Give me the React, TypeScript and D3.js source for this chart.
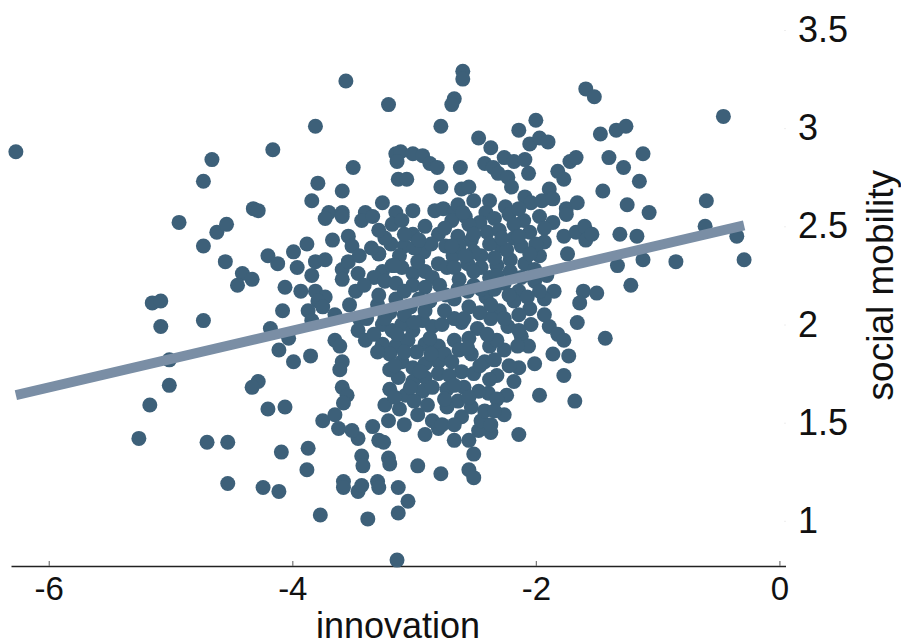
import React, { useEffect, useRef } from 'react';
import * as d3 from 'd3';

const width = 901;
const height = 642;

// [innovation, social mobility]
const topPoints: [number, number][] = [
  [-6.27, 2.88], [-4.66, 2.84], [-4.73, 2.73], [-3.56, 3.24], [-3.21, 3.12], [-3.81, 3.01],
  [-2.78, 3.01], [-4.16, 2.89], [-3.50, 2.80], [-3.15, 2.87], [-3.11, 2.88], [-3.01, 2.87],
  [-2.93, 2.86], [-2.87, 2.82], [-2.81, 2.80], [-3.14, 2.83], [-3.13, 2.74], [-3.06, 2.74],
  [-2.78, 2.70], [-3.79, 2.72], [-3.59, 2.68], [-3.84, 2.63], [-3.26, 2.62], [-4.32, 2.59],
  [-4.28, 2.58], [-3.70, 2.57], [-3.59, 2.57], [-3.40, 2.57], [-3.15, 2.57], [-3.01, 2.58],
  [-2.83, 2.58], [-2.76, 2.59], [-2.60, 3.29], [-2.60, 3.25], [-2.67, 3.15], [-2.69, 3.12],
  [-1.59, 3.20], [-1.52, 3.16], [-2.00, 3.04], [-2.14, 2.99], [-2.47, 2.95], [-2.37, 2.90],
  [-2.05, 2.92], [-1.97, 2.95], [-1.90, 2.93], [-1.47, 2.97], [-1.34, 2.99], [-1.26, 3.01],
  [-1.12, 2.87], [-1.40, 2.85], [-1.28, 2.80], [-1.15, 2.73], [-1.45, 2.68], [-1.25, 2.61],
  [-1.07, 2.57], [-2.62, 2.80], [-2.42, 2.82], [-2.35, 2.80], [-2.26, 2.85], [-2.18, 2.83],
  [-2.09, 2.84], [-2.31, 2.77], [-2.23, 2.75], [-2.06, 2.77], [-2.20, 2.70], [-1.82, 2.78],
  [-1.77, 2.74], [-1.72, 2.83], [-1.67, 2.85], [-2.61, 2.69], [-2.55, 2.70], [-2.51, 2.63],
  [-2.09, 2.65], [-2.04, 2.62], [-1.95, 2.63], [-1.89, 2.69], [-1.86, 2.64], [-1.75, 2.59],
  [-1.66, 2.62], [-2.67, 2.57], [-2.38, 2.63], [-2.25, 2.60], [-2.41, 2.57],
];

const rightPoints: [number, number][] = [
  [-0.46, 3.06], [-0.60, 2.63], [-0.61, 2.50], [-0.35, 2.45], [-0.29, 2.33], [-0.85, 2.32],
  [-1.75, 2.56], [-1.77, 2.45], [-1.67, 2.47], [-1.60, 2.50], [-1.59, 2.43], [-1.54, 2.46],
  [-1.31, 2.46], [-1.17, 2.45], [-1.74, 2.36], [-1.33, 2.30], [-1.12, 2.33], [-1.22, 2.20],
  [-1.61, 2.17], [-1.50, 2.16], [-1.64, 2.11], [-1.85, 2.17], [-1.66, 2.01], [-1.89, 1.99],
  [-1.82, 1.95], [-1.77, 1.92], [-1.43, 1.93], [-2.04, 2.00], [-2.12, 1.94], [-2.06, 1.89],
  [-1.86, 1.85], [-1.73, 1.84], [-2.01, 1.80], [-2.14, 1.78], [-1.77, 1.74], [-2.32, 1.74],
  [-2.18, 1.71], [-2.24, 1.64], [-1.97, 1.64], [-1.68, 1.61], [-2.39, 1.65],
];

const leftPoints: [number, number][] = [
  [-4.93, 2.52], [-4.62, 2.47], [-4.54, 2.51], [-4.73, 2.40], [-4.55, 2.32], [-5.15, 2.11],
  [-5.08, 2.12], [-5.08, 1.99], [-4.73, 2.02], [-5.01, 1.82], [-5.01, 1.69], [-5.17, 1.59],
  [-3.73, 2.54], [-3.59, 2.55], [-3.43, 2.53], [-3.34, 2.55], [-3.18, 2.51], [-3.10, 2.53],
  [-3.01, 2.46], [-2.91, 2.50], [-2.80, 2.46], [-3.88, 2.41], [-3.99, 2.37], [-3.67, 2.43],
  [-3.54, 2.45], [-3.51, 2.40], [-3.29, 2.36], [-4.20, 2.35], [-4.12, 2.31], [-3.96, 2.29],
  [-3.81, 2.32], [-3.73, 2.33], [-3.59, 2.28], [-3.54, 2.32], [-3.84, 2.25], [-4.41, 2.26],
  [-4.33, 2.23], [-4.45, 2.20], [-4.06, 2.19], [-3.93, 2.17], [-3.81, 2.17], [-3.73, 2.14],
  [-3.79, 2.12], [-3.59, 2.23], [-3.46, 2.26], [-3.48, 2.17], [-4.08, 2.07], [-3.87, 2.07],
  [-3.75, 2.09], [-3.65, 2.05], [-3.84, 2.02], [-4.18, 1.98], [-4.03, 1.93], [-4.11, 1.87],
  [-3.99, 1.81], [-3.85, 1.84], [-3.65, 1.92], [-3.61, 1.89], [-3.59, 1.81], [-3.61, 1.77],
  [-4.28, 1.71], [-4.33, 1.68], [-4.20, 1.57], [-4.06, 1.58], [-3.59, 1.68], [-3.55, 1.64],
  [-3.58, 1.60], [-3.75, 1.51], [-3.65, 1.54], [-3.53, 2.10], [-3.45, 2.03],
];

const bottomPoints: [number, number][] = [
  [-5.26, 1.42], [-4.70, 1.40], [-4.53, 1.40], [-4.53, 1.19], [-4.09, 1.35], [-3.87, 1.37],
  [-3.88, 1.26], [-4.24, 1.17], [-4.11, 1.15], [-3.77, 1.03], [-3.58, 1.20], [-3.58, 1.17],
  [-3.46, 1.15], [-3.43, 1.18], [-3.30, 1.20], [-3.29, 1.17], [-3.38, 1.01], [-3.13, 1.17],
  [-3.05, 1.10], [-3.13, 1.04], [-3.14, 0.80], [-3.43, 1.33], [-3.42, 1.28], [-3.21, 1.32],
  [-3.20, 1.29], [-2.97, 1.28], [-2.78, 1.24], [-2.91, 1.44], [-3.46, 1.42], [-3.29, 1.41],
  [-3.25, 1.40], [-3.62, 1.47], [-3.51, 1.46], [-2.80, 1.47], [-2.14, 1.44], [-2.37, 1.45],
  [-2.47, 1.46], [-2.51, 1.34], [-2.55, 1.26], [-2.51, 1.22], [-3.21, 1.51], [-3.34, 1.48],
  [-2.97, 1.54], [-2.85, 1.51], [-2.77, 1.49], [-2.61, 1.53], [-2.45, 1.51], [-2.37, 1.49],
  [-2.67, 1.49], [-2.55, 1.41], [-2.67, 1.41], [-3.08, 1.49],
];

const centerPoints: [number, number][] = [
  [-3.29, 2.36], [-3.26, 2.27], [-3.18, 2.30], [-3.10, 2.29], [-3.01, 2.26], [-2.91, 2.27],
  [-2.85, 2.24], [-2.80, 2.31], [-3.33, 2.24], [-3.24, 2.22], [-3.15, 2.21], [-3.01, 2.20],
  [-2.91, 2.19], [-3.26, 2.00], [-3.18, 1.97], [-3.10, 2.00], [-3.01, 1.97], [-2.93, 2.02],
  [-2.85, 1.99], [-2.77, 2.00], [-3.46, 1.97], [-3.40, 1.92], [-3.26, 1.90], [-3.15, 1.89],
  [-3.05, 1.92], [-2.91, 1.90], [-2.80, 1.89], [-3.10, 1.81], [-3.01, 1.78], [-2.91, 1.80],
  [-2.80, 1.81], [-3.13, 1.73], [-3.01, 1.71], [-2.91, 1.73], [-2.80, 1.75], [-3.20, 1.67],
  [-3.07, 1.64], [-2.93, 1.66], [-2.85, 1.68], [-2.74, 2.40], [-2.92, 2.37], [-3.08, 2.40],
  [-3.19, 2.41], [-2.87, 2.12], [-2.74, 2.15], [-3.03, 2.09], [-3.15, 2.13], [-3.30, 2.10],
  [-3.39, 2.03], [-2.69, 2.53], [-2.58, 2.55], [-2.46, 2.52], [-2.34, 2.54], [-2.22, 2.56],
  [-2.10, 2.53], [-1.97, 2.55], [-1.86, 2.52], [-2.64, 2.45], [-2.53, 2.43], [-2.40, 2.47],
  [-2.29, 2.40], [-2.18, 2.44], [-2.05, 2.47], [-1.93, 2.42], [-2.68, 2.35], [-2.56, 2.31],
  [-2.45, 2.35], [-2.32, 2.30], [-2.21, 2.33], [-2.09, 2.31], [-1.97, 2.35], [-2.63, 2.23],
  [-2.51, 2.20], [-2.38, 2.24], [-2.26, 2.21], [-2.14, 2.17], [-2.01, 2.22], [-1.91, 2.25],
  [-2.67, 2.13], [-2.55, 2.09], [-2.41, 2.14], [-2.30, 2.07], [-2.18, 2.12], [-2.05, 2.08],
  [-1.93, 2.13], [-2.61, 2.01], [-2.48, 1.98], [-2.37, 2.03], [-2.23, 1.99], [-2.67, 1.92],
  [-2.55, 1.93], [-2.38, 1.89], [-2.26, 1.87], [-2.15, 1.89], [-2.53, 1.85], [-2.42, 1.81],
  [-2.61, 1.76], [-2.51, 1.75], [-2.59, 1.68], [-2.47, 1.66], [-2.64, 1.61], [-2.53, 1.58],
  [-2.42, 1.56],
];

const corePoints: [number, number][] = [
  [-3.35, 2.39], [-3.24, 2.44], [-3.12, 2.35], [-3.00, 2.39], [-2.86, 2.41], [-2.97, 2.32],
  [-2.73, 2.29], [-3.41, 2.20], [-3.29, 2.15], [-3.08, 2.17], [-2.96, 2.13], [-2.79, 2.20],
  [-2.63, 2.40], [-2.51, 2.37], [-2.38, 2.41], [-2.24, 2.38], [-2.12, 2.40], [-2.01, 2.28],
  [-2.67, 2.29], [-2.45, 2.29], [-2.21, 2.27], [-2.56, 2.17], [-2.34, 2.18], [-2.22, 2.15],
  [-1.97, 2.17], [-2.46, 2.06], [-2.14, 2.05], [-1.93, 2.05], [-2.67, 2.03], [-2.55, 2.51],
  [-2.30, 2.48], [-1.93, 2.49], [-2.18, 2.51], [-2.64, 2.61], [-2.14, 2.59], [-3.20, 2.06],
  [-3.08, 2.05], [-2.91, 2.07], [-2.75, 2.07], [-3.33, 1.95], [-3.20, 1.85], [-2.98, 1.86],
  [-2.75, 1.85], [-3.20, 1.77], [-2.71, 1.74], [-2.73, 1.67], [-3.24, 1.59], [-3.12, 1.57],
  [-3.00, 1.61], [-2.73, 1.58], [-2.63, 1.87], [-2.32, 1.92], [-2.22, 1.79], [-2.34, 1.82],
  [-2.67, 1.69], [-2.32, 1.62], [-2.26, 1.54],
  [-2.75, 2.49], [-2.60, 2.57], [-2.51, 2.46], [-2.28, 2.44], [-2.14, 2.45], [-2.00, 2.41],
  [-2.69, 2.40], [-2.58, 2.35], [-2.34, 2.34], [-2.05, 2.36], [-2.51, 2.27], [-2.32, 2.25],
  [-2.12, 2.24], [-2.64, 2.18], [-2.45, 2.18], [-2.07, 2.14], [-2.59, 2.03], [-2.37, 2.10],
  [-2.26, 2.03], [-2.14, 1.97], [-2.40, 1.95], [-3.24, 2.03], [-3.00, 2.01], [-3.14, 1.95],
  [-2.87, 1.93], [-3.30, 1.86], [-3.08, 1.86], [-2.86, 1.85], [-3.16, 1.79], [-2.95, 1.76],
  [-3.03, 1.68], [-2.75, 1.62], [-2.89, 1.59], [-3.16, 1.63], [-2.56, 1.88], [-2.46, 1.79],
  [-2.69, 1.81], [-2.38, 1.72], [-2.55, 1.63], [-2.34, 1.56], [-3.29, 2.48], [-3.08, 2.46],
  [-2.96, 2.43], [-3.16, 2.30], [-3.45, 2.35],
];

const xTicks = [-6, -4, -2, 0];
const yTicks = [1, 1.5, 2, 2.5, 3, 3.5];
const fitSlope = 0.1447;
const fitIntercept = 2.547;

const font = '"Liberation Sans", Arial, Helvetica, sans-serif';

const App = () => {
  const svgRef = useRef<SVGSVGElement | null>(null);

  useEffect(() => {
    const svg = d3.select(svgRef.current);
    svg.selectAll('*').remove();

    const points = [
      ...topPoints, ...rightPoints, ...leftPoints, ...bottomPoints, ...centerPoints, ...corePoints,
    ];

    const x = d3.scaleLinear().domain([-6.31, 0.05]).range([11, 785.5]);
    const y = d3.scaleLinear().domain([0.77, 3.5]).range([566, 30]);

    // x axis, ticks pointing up
    const xAxis = svg.append('g')
      .attr('transform', `translate(0,${y(0.77)})`)
      .call(d3.axisBottom(x).tickValues(xTicks).tickSizeInner(-5).tickSizeOuter(0).tickPadding(11)
        .tickFormat(d => String(d)));
    xAxis.select('.domain').attr('stroke', '#222').attr('stroke-width', 1.6);
    xAxis.selectAll('.tick line').attr('stroke', '#777').attr('stroke-width', 1.2);
    xAxis.selectAll('.tick text')
      .attr('fill', '#111')
      .style('font-family', font)
      .style('font-size', '33px');

    // y axis on the right, no line
    const yAxis = svg.append('g')
      .attr('transform', `translate(784,0)`)
      .call(d3.axisRight(y).tickValues(yTicks).tickSize(2).tickPadding(12)
        .tickFormat(d => String(d)));
    yAxis.select('.domain').remove();
    yAxis.selectAll('.tick line').attr('stroke', '#eee');
    yAxis.selectAll('.tick text')
      .attr('fill', '#111')
      .style('font-family', font)
      .style('font-size', '36px');

    svg.append('g')
      .selectAll('circle')
      .data(points)
      .join('circle')
      .attr('cx', d => x(d[0]))
      .attr('cy', d => y(d[1]))
      .attr('r', 7.5)
      .attr('fill', '#3d6079');

    const xExtent = d3.extent(points, d => d[0]) as [number, number];
    const line = d3.line<number>()
      .x(d => x(d))
      .y(d => y(fitIntercept + fitSlope * d));
    svg.append('path')
      .datum(xExtent)
      .attr('d', line)
      .attr('fill', 'none')
      .attr('stroke', '#7a8ea5')
      .attr('stroke-width', 10);

    svg.append('text')
      .attr('x', 398)
      .attr('y', 638)
      .attr('text-anchor', 'middle')
      .attr('fill', '#111')
      .style('font-family', font)
      .style('font-size', '36px')
      .text('innovation');

    svg.append('text')
      .attr('transform', `translate(893,${y(2.2)}) rotate(-90)`)
      .attr('text-anchor', 'middle')
      .attr('fill', '#111')
      .style('font-family', font)
      .style('font-size', '37px')
      .text('social mobility');
  }, []);

  return (
    <svg
      ref={svgRef}
      width={width}
      height={height}
      style={{ position: 'absolute', left: 0, top: 0, display: 'block', background: '#fff' }}
    />
  );
};

export default App;
